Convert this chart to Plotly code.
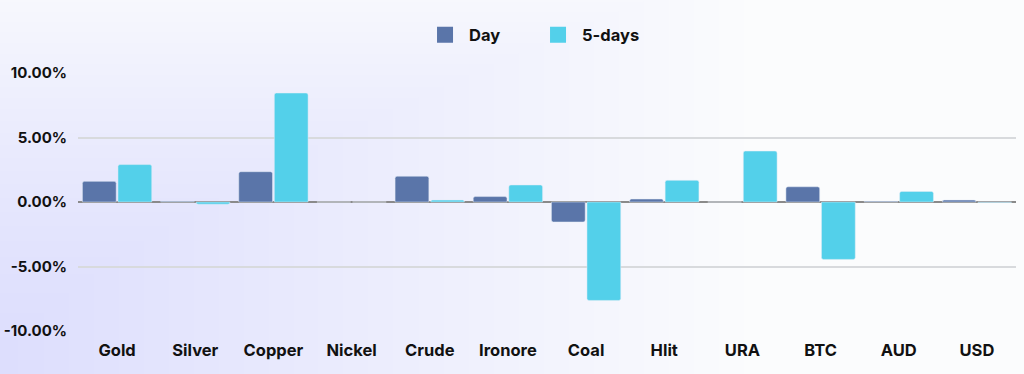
import plotly.graph_objects as go

categories = ["Gold", "Silver", "Copper", "Nickel", "Crude", "Ironore", "Coal", "Hlit", "URA", "BTC", "AUD", "USD"]
day_values = [1.6, 0.05, 2.35, 0.0, 2.0, 0.42, -1.55, 0.23, 0.0, 1.18, 0.05, 0.15]
five_day_values = [2.9, -0.17, 8.45, 0.0, 0.15, 1.32, -7.63, 1.68, 3.95, -4.45, 0.82, -0.03]
tick_vals = [10, 5, 0, -5, -10]
tick_text = ["10.00%", "5.00%", "0.00%", "-5.00%", "-10.00%"]

DAY_COLOR = "#5a75a9"
FIVE_COLOR = "#53d0ea"
FONT = "Inter"

fig = go.Figure()
fig.add_trace(go.Bar(x=categories, y=day_values, name="Day", marker_color=DAY_COLOR,
                     showlegend=False))
fig.add_trace(go.Bar(x=categories, y=five_day_values, name="5-days", marker_color=FIVE_COLOR,
                     showlegend=False))
# legend proxies with bigger square markers
for name, col in [("Day", DAY_COLOR), ("5-days", FIVE_COLOR)]:
    fig.add_trace(go.Scatter(x=[None], y=[None], mode="markers", name=name,
                             marker=dict(symbol="square", size=19, color=col)))

# soft diagonal background gradient (decorative), anchored at bottom-left corner
shapes = []
n = 30
for i in range(n):
    f = 1 - i / n
    shapes.append(dict(type="rect", xref="paper", yref="paper", layer="below",
                       x0=-0.09, x1=-0.09 + 0.8 * f, y0=-0.17, y1=-0.17 + 1.6 * f ** 0.7,
                       fillcolor="#c8d8e6", opacity=0.02, line_width=0))

fig.update_layout(
    width=1024, height=374,
    margin=dict(l=78, r=8, t=73, b=43, autoexpand=False),
    paper_bgcolor="#fbfcfd", plot_bgcolor="rgba(0,0,0,0)",
    barmode="group", bargap=0.09, bargroupgap=0.05, barcornerradius=2,
    font=dict(family=FONT, size=15, color="#111111", weight="bold"),
    legend=dict(orientation="h", x=0.3657, xanchor="left", y=1.147, yanchor="middle",
                font=dict(size=16.5, weight="bold"), itemwidth=38,
                entrywidth=60, entrywidthmode="pixels",
                bgcolor="rgba(0,0,0,0)", traceorder="normal"),
    shapes=shapes,
)
fig.update_xaxes(showgrid=False, ticks="", showline=False, automargin=False,
                 ticklabelstandoff=7, tickfont=dict(size=16.5, weight="bold"))
fig.update_yaxes(range=[-10, 10], tickvals=tick_vals, ticktext=tick_text,
                 showgrid=True, gridcolor="#d8dadd", gridwidth=1.5,
                 zeroline=True, zerolinecolor="#8a8a8a", zerolinewidth=1.5, automargin=False,
                 ticks="", ticklabelstandoff=10, tickfont=dict(size=15, weight="bold"))

fig.write_html("out.html", config={"displayModeBar": False},
               post_script="document.body.style.margin='0';")
